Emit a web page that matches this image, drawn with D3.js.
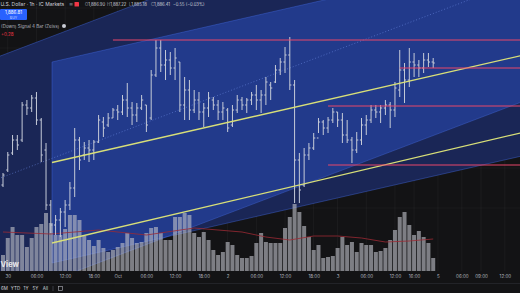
<!DOCTYPE html>
<html>
<head>
<meta charset="utf-8">
<title>1h chart</title>
<style>
  body { margin: 0; background: #131315; }
  svg { display: block; }
  text { font-family: "Inter", "DejaVu Sans", sans-serif; }
</style>
</head>
<body>
<svg width="520" height="293"></svg>
<script src="https://cdnjs.cloudflare.com/ajax/libs/d3/7.8.5/d3.min.js"></script>
<script>
// hourly bars
var open  = [1855.75,1859.5,1863.75,1867,1867,1875.75,1875,1877.5,1872,1864.5,
             1850.75,1845.75,1847,1849,1850.75,1855,1867,1863.25,1865,1864.5,
             1866.5,1871.5,1870.75,1872.5,1874.5,1874,1877,1875,1873.25,1875,
             1875.75,1872.5,1883.25,1890,1885.75,1887,1885,1886.5,1875.75,1879.5,
             1874.5,1877,1874,1875,1877,1875.75,1874,1874.5,1870.75,1874.5,
             1877,1875.75,1877,1878.25,1877,1878.25,1880.75,1881.5,1884.5,1886.5,
             1888.25,1880.75,1862,1855.75,1863.25,1865,1867.5,1871.5,1870,1872,
             1874,1872,1868.25,1867,1864.5,1867,1870.75,1872,1874.5,1874,
             1875,1875.75,1874.5,1879.5,1884.5,1882,1886.5,1885.75,1885,1887,1886.5];
var high  = [1858.75,1864,1868.25,1868.25,1876.5,1877,1878.25,1879,1872.5,1866.25,
             1852,1848.25,1850,1852,1856.5,1870,1867.75,1866.5,1867,1867,
             1873.25,1872.75,1873.75,1875,1875.75,1878.25,1881.25,1876.5,1876.25,1878.25,
             1875.75,1884.5,1892,1892,1889.5,1889,1890,1886.5,1882.75,1882,
             1879.5,1879,1876.25,1879,1877.75,1877,1876.5,1875,1875.75,1878.25,
             1877.75,1877.5,1879,1880.75,1879.5,1882.75,1881.5,1885.75,1887.5,1890.25,
             1892.75,1882,1863.75,1865,1866.25,1868.75,1872.5,1872,1872.75,1875,
             1874,1873.75,1872,1867.75,1869,1872.5,1873.25,1875.75,1875.75,1875.75,
             1877,1876.5,1881.5,1889.5,1886.25,1890,1888.75,1887,1888.75,1888.75,1887.5];
var low   = [1855.25,1859,1863.25,1864.5,1866.5,1873.25,1874,1870.75,1861.5,1849.5,
             1843.75,1843.25,1842.75,1845.25,1849.5,1852.75,1859.5,1862,1861.5,1862,
             1866.25,1867.75,1870.25,1872.5,1872,1873.25,1872.75,1870.75,1871.5,1874.5,
             1869,1872,1882.75,1884,1882,1883.25,1882,1874,1872,1872,
             1873.75,1872,1870.25,1872.75,1874.5,1872,1872,1869,1870.25,1873.75,
             1874.5,1873.75,1875.75,1874.5,1873.75,1875.75,1877,1881.25,1883.25,1883.75,
             1879.5,1851.25,1851.25,1855.25,1862,1864.5,1868.75,1868.25,1868.75,1871.25,
             1870.25,1866.25,1866.25,1861.25,1863.75,1865.75,1868.25,1871.25,1872.5,1871.25,
             1873.25,1870,1872.75,1877.75,1876.25,1880.25,1882.75,1882.75,1883.75,1885.25,1885];
var close = [1858.25,1863.25,1867,1865.75,1875.75,1875,1877.5,1872,1863.25,1850.75,
             1845.75,1847,1849,1850.75,1855,1867,1862,1865,1864.5,1866.5,
             1872,1870,1872.5,1874.5,1874,1877,1875,1873.25,1875,1877,
             1870.75,1883.25,1890,1885.75,1887,1885,1887.5,1875.75,1879.5,1874.5,
             1877,1874,1875,1877.5,1875.75,1874,1875,1870,1874.5,1877,
             1875.75,1877,1878.25,1877,1878.25,1881.5,1880,1884.5,1886.5,1888.25,
             1880.75,1862,1854.5,1863.25,1865,1867.5,1871.5,1870,1872,1874,
             1872,1868.25,1867,1864.5,1867,1870.75,1872,1874.5,1874,1875,
             1875.75,1874.5,1880,1884.5,1882,1886.5,1885.75,1885,1887,1886.5,1886.25];
var volume = [1600,3300,4400,3600,3600,2400,3300,4400,4700,5800,
              4800,3600,3600,4200,5600,5600,5100,3500,3100,2500,
              3100,2300,1900,2100,2400,2800,3800,3300,2800,2900,
              3800,4300,4400,3800,3100,3100,5400,5400,5800,5600,
              3800,3400,3900,3100,2100,1600,1900,2900,2600,1600,
              1300,1300,1500,2800,3800,2900,2800,2800,2800,4300,
              5400,6700,5900,4500,3400,2100,2600,1300,1400,1500,
              2300,3400,2600,2900,1900,2800,2600,2600,1900,2000,
              2300,3100,4100,5400,5900,4600,3600,4000,3400,2800,1300];

// volume moving average, read at a few bars
var maIdx = [0, 10, 20, 30, 40, 50, 55, 60, 65, 70, 75, 80, 85, 90];
var maVal = [3900, 3700, 4100, 3600, 4300, 3900, 3400, 3100, 3500, 3500, 3300, 2900, 3000, 3200];

// time axis labels (bar index, text)
var tickIdx  = [1, 7, 13, 19, 24, 30, 36, 42, 47, 53, 59, 65, 70, 76, 82, 86, 91, 96, 100, 105];
var tickText = ["30","06:00","12:00","18:00","Oct","06:00","12:00","18:00","2","06:00",
                "12:00","18:00","3","06:00","12:00","16:00","5","06:00","09:00","12:00"];

// drawings: horizontal levels (price, first bar)
var levelPrice = [1892, 1885, 1875.5, 1860.75];
var levelStart = [23, 83, 68, 68];

// parallel channels: top edge anchors [bar, price] and height in price
var steepTop = [[-1, 1887.8], [110, 1938.2]];
var steepHeight = 61;
var flatTop = [[10.25, 1886.5], [110, 1913.65]];
var flatHeight = 50.25;
var lowerTrend = [[10.25, 1841.25], [110, 1869.25]];

// legend values
var ohlcLabel = ['O', 'H', 'L', 'C'];
var ohlcValue = ['1,886.90', '1,887.22', '1,885.18', '1,886.41'];
var change = '−0.55 (−0.03%)';

var W = 520, H = 293, paneBottom = 271;

var svg = d3.select('svg');
var x = d3.scaleLinear().domain([0, 90]).range([3, 433.2]);
var y = d3.scaleLinear().domain([1840, 1902]).range([248, 0]);
var yv = d3.scaleLinear().domain([0, 10000]).range([paneBottom, paneBottom - 100]);
var step = x(1) - x(0);

svg.append('rect').attr('width', W).attr('height', H).attr('fill', '#131315');

var defs = svg.append('defs');
defs.append('clipPath').attr('id', 'pane')
    .append('rect').attr('width', W).attr('height', paneBottom);

function chanPoly(top, h) {
    var p = top.map(function(d) { return [x(d[0]), y(d[1])]; });
    var q = top.slice().reverse().map(function(d) { return [x(d[0]), y(d[1] - h)]; });
    return p.concat(q);
}
var steepPts = chanPoly(steepTop, steepHeight);
var flatPts = chanPoly(flatTop, flatHeight);

defs.append('clipPath').attr('id', 'flatclip')
    .append('polygon').attr('points', flatPts.join(' '));

var pane = svg.append('g').attr('clip-path', 'url(#pane)');

// grid
var grid = pane.append('g');
grid.selectAll('line.v').data(tickIdx).enter().append('line')
    .attr('x1', function(d) { return x(d); }).attr('x2', function(d) { return x(d); })
    .attr('y1', 0).attr('y2', paneBottom)
    .attr('stroke', 'rgba(255,255,255,0.04)');
grid.selectAll('line.h').data([1850, 1860, 1870, 1880, 1890, 1900]).enter().append('line')
    .attr('x1', 0).attr('x2', W)
    .attr('y1', function(d) { return y(d); }).attr('y2', function(d) { return y(d); })
    .attr('stroke', 'rgba(255,255,255,0.03)');

// channel fills
pane.append('polygon').attr('points', steepPts.join(' ')).attr('fill', '#1a2656');
pane.append('polygon').attr('points', flatPts.join(' ')).attr('fill', '#1a2656');
pane.append('polygon').attr('points', steepPts.join(' ')).attr('fill', '#223a8b')
    .attr('clip-path', 'url(#flatclip)');

// channel borders
function edge(top, off, color, dash, sw) {
    pane.append('line')
        .attr('x1', x(top[0][0])).attr('y1', y(top[0][1] - off))
        .attr('x2', x(top[1][0])).attr('y2', y(top[1][1] - off))
        .attr('stroke', color).attr('stroke-width', sw || 0.8)
        .attr('stroke-dasharray', dash || null);
}
edge(steepTop, 0, 'rgba(70,110,230,0.5)');
edge(steepTop, steepHeight, 'rgba(70,110,230,0.5)');
edge(steepTop, steepHeight / 2, 'rgba(110,140,230,0.7)', '1,2');
edge(flatTop, 0, 'rgba(70,110,230,0.5)');
edge(flatTop, flatHeight, 'rgba(70,110,230,0.5)');
pane.append('line')
    .attr('x1', x(flatTop[0][0])).attr('y1', y(flatTop[0][1]))
    .attr('x2', x(flatTop[0][0])).attr('y2', y(flatTop[0][1] - flatHeight))
    .attr('stroke', 'rgba(70,110,230,0.5)').attr('stroke-width', 0.8);

// volume
pane.append('g').selectAll('rect').data(volume).enter().append('rect')
    .attr('x', function(d, i) { return x(i) - step * 0.42; })
    .attr('width', step * 0.84)
    .attr('y', function(d) { return yv(d); })
    .attr('height', function(d) { return paneBottom - yv(d); })
    .attr('fill', 'rgba(190,192,200,0.62)');

pane.append('path')
    .datum(maIdx.map(function(d, i) { return [d, maVal[i]]; }))
    .attr('d', d3.line().x(function(d) { return x(d[0]); }).y(function(d) { return yv(d[1]); }))
    .attr('fill', 'none').attr('stroke', '#9c2a33').attr('stroke-width', 0.8);

// OHLC bars
var bars = pane.append('g').attr('stroke', '#c6cbd8').attr('stroke-width', 1);
open.forEach(function(o, i) {
    var cx = x(i);
    bars.append('line').attr('x1', cx).attr('x2', cx).attr('y1', y(high[i])).attr('y2', y(low[i]));
    bars.append('line').attr('x1', cx - 1.6).attr('x2', cx).attr('y1', y(o)).attr('y2', y(o));
    bars.append('line').attr('x1', cx).attr('x2', cx + 1.6).attr('y1', y(close[i])).attr('y2', y(close[i]));
});

// trend lines
edge(flatTop, flatHeight / 2, '#d8df78', null, 1.3);
pane.append('line')
    .attr('x1', x(lowerTrend[0][0])).attr('y1', y(lowerTrend[0][1]))
    .attr('x2', x(lowerTrend[1][0])).attr('y2', y(lowerTrend[1][1]))
    .attr('stroke', '#d8df78').attr('stroke-width', 1.3);

// horizontal levels
pane.append('g').selectAll('line').data(levelPrice).enter().append('line')
    .attr('x1', function(d, i) { return x(levelStart[i]); }).attr('x2', W)
    .attr('y1', function(d) { return y(d); }).attr('y2', function(d) { return y(d); })
    .attr('stroke', '#e8476a').attr('stroke-width', 1.1);

// watermark (only the tail of the logo shows)
svg.append('text').attr('x', 0.5).attr('y', 267)
    .attr('font-size', 7.5).attr('font-weight', 700).attr('fill', '#e8e8ea')
    .text('View');

// time axis
var axis = svg.append('g').attr('transform', 'translate(0,' + (paneBottom + 1) + ')')
    .call(d3.axisBottom(x).tickValues(tickIdx).tickSize(0).tickPadding(3)
        .tickFormat(function(d, i) { return tickText[i]; }));
axis.select('.domain').remove();
axis.selectAll('text').attr('font-size', 4.5).attr('fill', '#b2b5be')
    .style('font-family', '"Inter","DejaVu Sans",sans-serif');

svg.append('line').attr('x1', 0).attr('x2', W).attr('y1', 283.5).attr('y2', 283.5)
    .attr('stroke', '#222328');

// range buttons
var ranges = ['6M', 'YTD', '1Y', '5Y', 'All'];
var rangeX = [4.5, 15.5, 26, 35.5, 45.5];
svg.append('g').selectAll('text').data(ranges).enter().append('text')
    .attr('x', function(d, i) { return rangeX[i]; }).attr('y', 290)
    .attr('text-anchor', 'middle').attr('font-size', 4.5).attr('fill', '#d1d4dc')
    .text(function(d) { return d; });
svg.append('line').attr('x1', 53).attr('x2', 53).attr('y1', 286).attr('y2', 291)
    .attr('stroke', '#3a3d45');
svg.append('rect').attr('x', 58.5).attr('y', 286.5).attr('width', 4).attr('height', 4)
    .attr('fill', 'none').attr('stroke', '#b2b5be').attr('stroke-width', 0.6);

// legend
var leg = svg.append('g');
leg.append('text').attr('x', 0.5).attr('y', 6).attr('font-size', 5).attr('fill', '#d1d4dc')
    .text('U.S. Dollar · 1h · IC Markets');
leg.append('text').attr('x', 69).attr('y', 6).attr('font-size', 5).attr('fill', '#9598a1').text('≡');
leg.append('rect').attr('x', 74.5).attr('y', 2).attr('width', 4.5).attr('height', 4.5)
    .attr('fill', '#f23645').attr('rx', 0.6);
var ohlcX = [85, 107, 129, 151];
ohlcLabel.forEach(function(l, i) {
    var t = leg.append('text').attr('x', ohlcX[i]).attr('y', 6).attr('font-size', 4.2);
    t.append('tspan').attr('fill', '#9598a1').text(l);
    t.append('tspan').attr('fill', '#d1d4dc').text(ohlcValue[i]);
});
leg.append('text').attr('x', 173).attr('y', 6).attr('font-size', 4.2).attr('fill', '#d1d4dc').text(change);

leg.append('rect').attr('x', 0).attr('y', 9).attr('width', 27).attr('height', 11)
    .attr('fill', '#2962ff').attr('rx', 1);
leg.append('text').attr('x', 13.5).attr('y', 14.2).attr('text-anchor', 'middle').attr('font-size', 4.5)
    .attr('fill', '#ffffff').text('1,886.81');
leg.append('text').attr('x', 13.5).attr('y', 18.7).attr('text-anchor', 'middle').attr('font-size', 3.5)
    .attr('fill', '#c9d6ff').text('BUY');

leg.append('text').attr('x', 1).attr('y', 27.5).attr('font-size', 4.5).attr('fill', '#b2b5be')
    .text('(Down) Signal 4 Bar (Zeiss)');
leg.append('circle').attr('cx', 64).attr('cy', 26).attr('r', 2).attr('fill', '#c9ccd4');
leg.append('text').attr('x', 1).attr('y', 36).attr('font-size', 4.5).attr('fill', '#f23645')
    .text('+0.28');
</script>
</body>
</html>
